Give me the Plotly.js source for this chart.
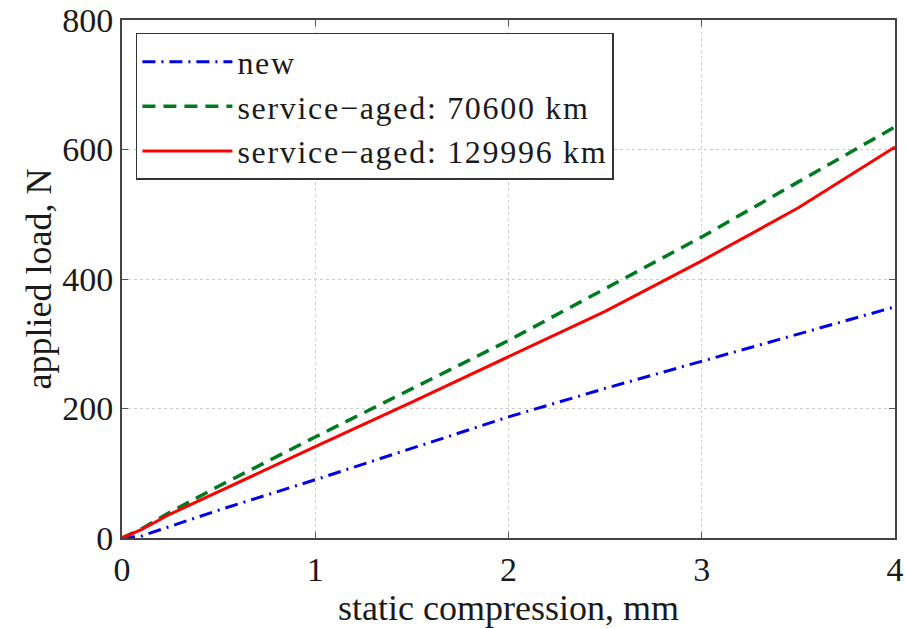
<!DOCTYPE html>
<html>
<head>
<meta charset="utf-8">
<script src="https://cdn.plot.ly/plotly-3.0.1.min.js"></script>
<style>html,body{margin:0;padding:0;background:#fff;}#chart{width:906px;height:628px;}
.legendtext{letter-spacing:1.7px;}</style>
</head>
<body>
<div id="chart"></div>
<script>
// compression (mm)
const compression = [0, 0.1, 0.25, 0.5, 1, 1.5, 2, 2.5, 3, 3.5, 4];
// applied load (N)
const loadNew      = [0, 3, 18, 43, 90, 138, 187, 231, 273, 315, 357];
const loadAged70600 = [0, 14, 40, 80, 156, 230, 305, 385, 465, 550, 635];
const loadAged129996 = [0, 13, 37, 72, 141, 210, 280, 350, 428, 510, 604];
const seriesNames = ["new", "service\u2212aged: 70600 km", "service\u2212aged: 129996 km"];
const xTicks = [0, 1, 2, 3, 4];
const yTicks = [0, 200, 400, 600, 800];

const font = "Liberation Serif, Times New Roman, serif";
const ink = "#1a1a1a";

const traces = [
  {x: compression, y: loadNew, name: seriesNames[0], mode: "lines", line: {color: "#0000e6", width: 3, dash: "13px,6px,2px,6px"}},
  {x: compression, y: loadAged70600, name: seriesNames[1], mode: "lines", line: {color: "#007a1f", width: 3.5, dash: "13px,8px"}},
  {x: compression, y: loadAged129996, name: seriesNames[2], mode: "lines", line: {color: "#ff0000", width: 3}}
];

const layout = {
  width: 906, height: 628,
  margin: {l: 122, r: 11, t: 20, b: 90},
  paper_bgcolor: "#fff", plot_bgcolor: "#fff",
  font: {family: font, size: 34, color: ink},
  showlegend: true,
  legend: {x: 0.018, y: 0.975, xanchor: "left", yanchor: "top",
           bgcolor: "#fff", bordercolor: "#333", borderwidth: 1.5,
           font: {family: font, size: 32, color: ink},
           itemwidth: 90, tracegroupgap: 0},
  xaxis: {range: [0, 4], tickvals: xTicks, ticktext: xTicks.map(String),
          ticks: "inside", ticklen: 6, tickcolor: "#555",
          showline: true, linecolor: "#444", linewidth: 2, mirror: "ticks",
          showgrid: true, gridcolor: "#cccccc", griddash: "dot", gridwidth: 1,
          zeroline: false, tickfont: {family: font, size: 34, color: ink},
          title: {text: "static compression, mm", font: {family: font, size: 36, color: ink}, standoff: 0}},
  yaxis: {range: [0, 800], tickvals: yTicks, ticktext: yTicks.map(String),
          ticks: "inside", ticklen: 6, tickcolor: "#555",
          showline: true, linecolor: "#444", linewidth: 2, mirror: "ticks",
          showgrid: true, gridcolor: "#cccccc", griddash: "dot", gridwidth: 1,
          zeroline: false, tickfont: {family: font, size: 34, color: ink},
          title: {text: "applied load, N", font: {family: font, size: 36, color: ink}, standoff: 0}}
};

Plotly.newPlot("chart", traces, layout, {staticPlot: true});
</script>
</body>
</html>
